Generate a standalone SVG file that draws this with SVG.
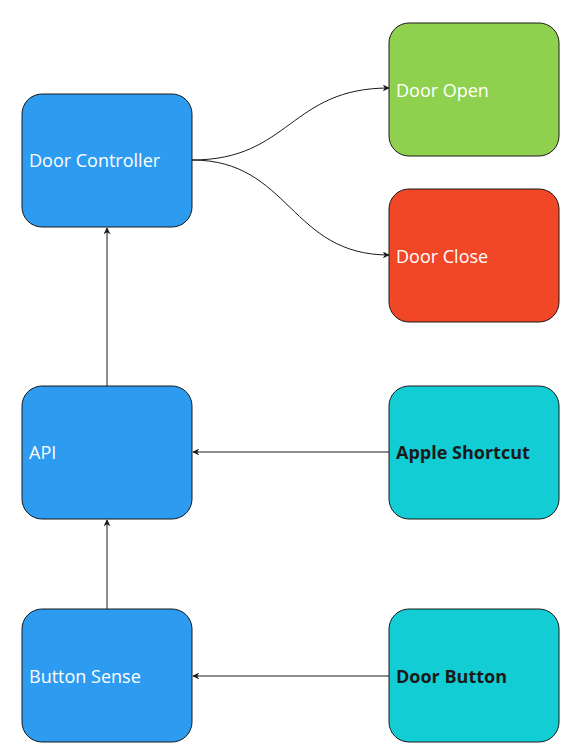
<svg xmlns="http://www.w3.org/2000/svg" width="572" height="749" viewBox="0 0 572 749">
<style>
.n{stroke:#1a1a1a;stroke-width:1}
.t{font-family:"Open Sans","Noto Sans",sans-serif;font-size:18px;fill:#ffffff}
.b{font-family:"Open Sans","Noto Sans",sans-serif;font-size:18px;font-weight:bold;fill:#1a1a1a}
.c{fill:none;stroke:#1a1a1a;stroke-width:1}
</style>
<defs>
<marker id="a" viewBox="0 0 10 10" refX="9" refY="5" markerWidth="7" markerHeight="7" markerUnits="userSpaceOnUse" orient="auto">
<path d="M0,0 L10,5 L0,10 L3,5 Z" fill="#1a1a1a"/>
</marker>
</defs>
<rect width="572" height="749" fill="#ffffff"/>
<g id="connectors">
<path class="c" d="M192,160 C290,160 290,88 389,88" marker-end="url(#a)"/>
<path class="c" d="M192,160 C290,160 290,255 389,255" marker-end="url(#a)"/>
<path class="c" d="M107,386 L107,228" marker-end="url(#a)"/>
<path class="c" d="M107,609 L107,520" marker-end="url(#a)"/>
<path class="c" d="M389,452 L193,452" marker-end="url(#a)"/>
<path class="c" d="M389,676 L193,676" marker-end="url(#a)"/>
</g>
<g id="door-controller"><rect class="n" x="22" y="94" width="170" height="133" rx="20" fill="#2D9BF0"/><text class="t" x="29" y="167">Door Controller</text></g>
<g id="door-open"><rect class="n" x="389" y="23" width="170" height="133" rx="20" fill="#8FD14F"/><text class="t" x="396" y="97">Door Open</text></g>
<g id="door-close"><rect class="n" x="389" y="189" width="170" height="133" rx="20" fill="#F24726"/><text class="t" x="396" y="263">Door Close</text></g>
<g id="api"><rect class="n" x="22" y="386" width="170" height="133" rx="20" fill="#2D9BF0"/><text class="t" x="29" y="459">API</text></g>
<g id="apple-shortcut"><rect class="n" x="389" y="386" width="170" height="133" rx="20" fill="#12CDD4"/><text class="b" x="396" y="459">Apple Shortcut</text></g>
<g id="button-sense"><rect class="n" x="22" y="609" width="170" height="133" rx="20" fill="#2D9BF0"/><text class="t" x="29" y="683">Button Sense</text></g>
<g id="door-button"><rect class="n" x="389" y="609" width="170" height="133" rx="20" fill="#12CDD4"/><text class="b" x="396" y="683">Door Button</text></g>
</svg>
